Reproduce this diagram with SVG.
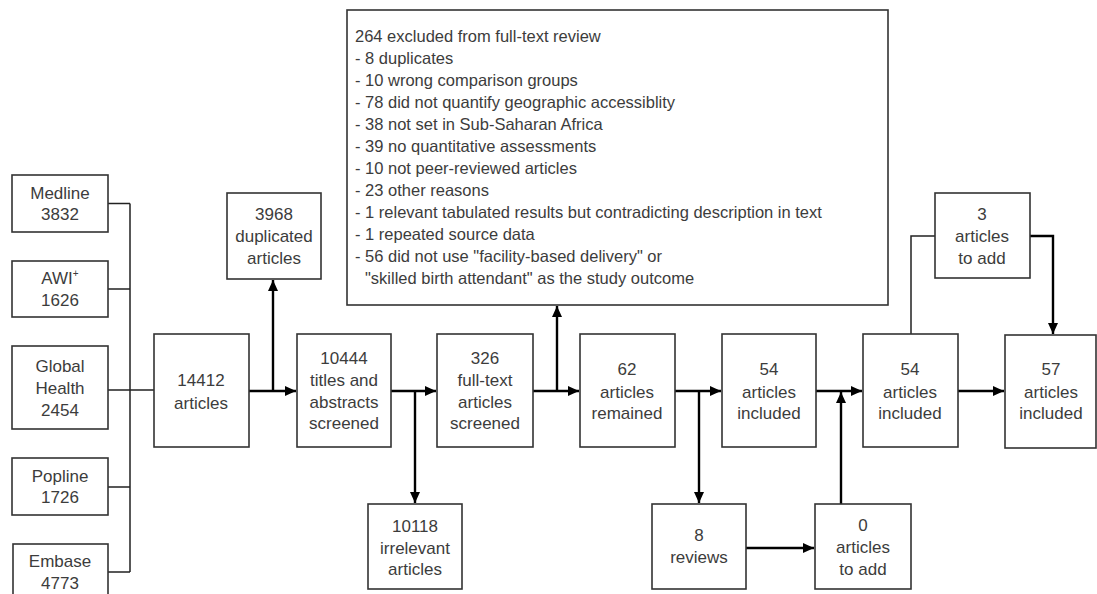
<svg xmlns="http://www.w3.org/2000/svg" width="1097" height="594" viewBox="0 0 1097 594">
<defs>
<style>
.box{fill:#fff;stroke:#333;stroke-width:1.6}
.t{font-family:"Liberation Sans",Arial,sans-serif;font-size:17px;fill:#3c3c3c;text-anchor:middle}
.bt{font-family:"Liberation Sans",Arial,sans-serif;font-size:16.5px;fill:#3c3c3c}
.thin{fill:none;stroke:#222;stroke-width:1.5}
.thick{fill:none;stroke:#000;stroke-width:2.4}
</style>
<marker id="ah" markerUnits="userSpaceOnUse" markerWidth="12" markerHeight="12" viewBox="0 0 12 12" refX="11" refY="6" orient="auto">
<path d="M0,1 L11,6 L0,11 Z" fill="#000"/>
</marker>
</defs>
<rect width="1097" height="594" fill="#fff"/>
<g id="connectors">
<path class="thin" d="M108,203.5 H130 M108,289 H130 M108,390 H154 M108,487 H130 M108,572 H130 M130,203.5 V572"/>
<path class="thick" d="M249,391 H296" marker-end="url(#ah)"/>
<path class="thick" d="M273,391 V280" marker-end="url(#ah)"/>
<path class="thick" d="M391,391 H436" marker-end="url(#ah)"/>
<path class="thick" d="M415,391 V503" marker-end="url(#ah)"/>
<path class="thick" d="M533,391 H579" marker-end="url(#ah)"/>
<path class="thick" d="M557,391 V306" marker-end="url(#ah)"/>
<path class="thick" d="M675,391 H721" marker-end="url(#ah)"/>
<path class="thick" d="M699,391 V503" marker-end="url(#ah)"/>
<path class="thick" d="M816,391 H862" marker-end="url(#ah)"/>
<path class="thick" d="M841,504 V392" marker-end="url(#ah)"/>
<path class="thick" d="M958,391 H1004" marker-end="url(#ah)"/>
<path class="thick" d="M746,548 H814" marker-end="url(#ah)"/>
<path class="thin" d="M911,334 V236 H935"/>
<path class="thick" d="M1030,236 H1053 V334" marker-end="url(#ah)"/>
</g>
<g id="medline"><rect class="box" x="12" y="175" width="96" height="57"/><text class="t" x="60" y="199">Medline</text><text class="t" x="60" y="220">3832</text></g>
<g id="awi"><rect class="box" x="12" y="261" width="96" height="56"/><text class="t" x="60" y="284">AWI<tspan font-size="10" dy="-7">+</tspan></text><text class="t" x="60" y="306">1626</text></g>
<g id="globalhealth"><rect class="box" x="12" y="346" width="96" height="83"/><text class="t" x="60" y="372">Global</text><text class="t" x="60" y="394">Health</text><text class="t" x="60" y="416">2454</text></g>
<g id="popline"><rect class="box" x="12" y="458" width="96" height="57"/><text class="t" x="60" y="482">Popline</text><text class="t" x="60" y="503">1726</text></g>
<g id="embase"><rect class="box" x="13" y="544" width="95" height="60"/><text class="t" x="60" y="567">Embase</text><text class="t" x="60" y="589">4773</text></g>
<g id="n14412"><rect class="box" x="154" y="334" width="95" height="113"/><text class="t" x="201" y="386">14412</text><text class="t" x="201" y="409">articles</text></g>
<g id="n3968"><rect class="box" x="227" y="193" width="94" height="86"/><text class="t" x="274" y="220">3968</text><text class="t" x="274" y="242">duplicated</text><text class="t" x="274" y="264">articles</text></g>
<g id="n10444"><rect class="box" x="297" y="334" width="94" height="113"/><text class="t" x="344" y="364">10444</text><text class="t" x="344" y="386">titles and</text><text class="t" x="344" y="408">abstracts</text><text class="t" x="344" y="429">screened</text></g>
<g id="n10118"><rect class="box" x="368" y="504" width="94" height="85"/><text class="t" x="415" y="532">10118</text><text class="t" x="415" y="554">irrelevant</text><text class="t" x="415" y="575">articles</text></g>
<g id="n326"><rect class="box" x="437" y="334" width="96" height="113"/><text class="t" x="485" y="364">326</text><text class="t" x="485" y="386">full-text</text><text class="t" x="485" y="408">articles</text><text class="t" x="485" y="429">screened</text></g>
<g id="excluded"><rect class="box" x="347" y="10" width="541" height="295"/>
<text class="bt" x="355" y="42">264 excluded from full-text review</text>
<text class="bt" x="355" y="64">- 8 duplicates</text>
<text class="bt" x="355" y="86">- 10 wrong comparison groups</text>
<text class="bt" x="355" y="108">- 78 did not quantify geographic accessiblity</text>
<text class="bt" x="355" y="130">- 38 not set in Sub-Saharan Africa</text>
<text class="bt" x="355" y="152">- 39 no quantitative assessments</text>
<text class="bt" x="355" y="174">- 10 not peer-reviewed articles</text>
<text class="bt" x="355" y="196">- 23 other reasons</text>
<text class="bt" x="355" y="218">- 1 relevant tabulated results but contradicting description in text</text>
<text class="bt" x="355" y="240">- 1 repeated source data</text>
<text class="bt" x="355" y="262">- 56 did not use "facility-based delivery" or</text>
<text class="bt" x="365" y="284">"skilled birth attendant" as the study outcome</text>
</g>
<g id="n62"><rect class="box" x="580" y="334" width="95" height="113"/><text class="t" x="627" y="375">62</text><text class="t" x="627" y="398">articles</text><text class="t" x="627" y="419">remained</text></g>
<g id="n54a"><rect class="box" x="722" y="334" width="94" height="113"/><text class="t" x="769" y="375">54</text><text class="t" x="769" y="398">articles</text><text class="t" x="769" y="419">included</text></g>
<g id="n8"><rect class="box" x="652" y="504" width="94" height="85"/><text class="t" x="699" y="541">8</text><text class="t" x="699" y="563">reviews</text></g>
<g id="n0"><rect class="box" x="815" y="504" width="96" height="85"/><text class="t" x="863" y="531">0</text><text class="t" x="863" y="553">articles</text><text class="t" x="863" y="575">to add</text></g>
<g id="n54b"><rect class="box" x="863" y="334" width="95" height="113"/><text class="t" x="910" y="375">54</text><text class="t" x="910" y="398">articles</text><text class="t" x="910" y="419">included</text></g>
<g id="n3"><rect class="box" x="935" y="193" width="95" height="85"/><text class="t" x="982" y="220">3</text><text class="t" x="982" y="242">articles</text><text class="t" x="982" y="264">to add</text></g>
<g id="n57"><rect class="box" x="1005" y="335" width="91" height="113"/><text class="t" x="1051" y="375">57</text><text class="t" x="1051" y="398">articles</text><text class="t" x="1051" y="419">included</text></g>
</svg>
